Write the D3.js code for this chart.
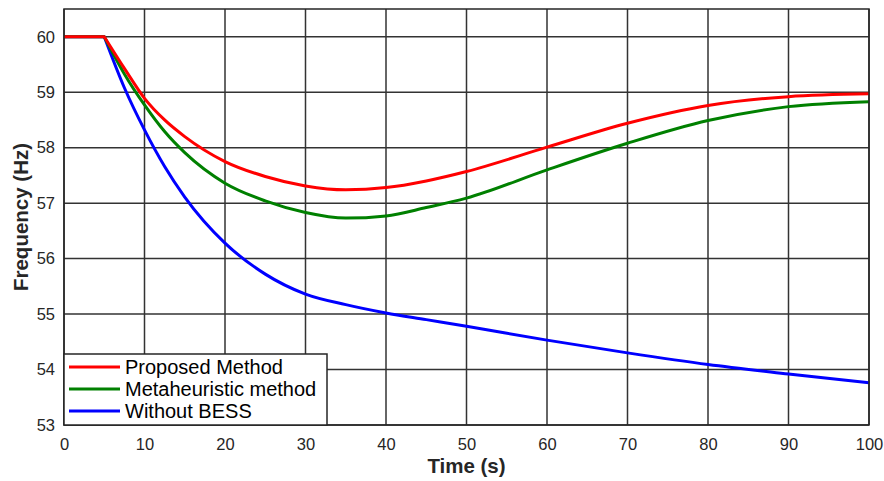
<!DOCTYPE html>
<html>
<head>
<meta charset="utf-8">
<script src="https://cdn.jsdelivr.net/npm/d3@7"></script>
<style>
  body { margin: 0; background: #fff; }
  svg { display: block; font-family: Arial, "Liberation Sans", Helvetica, sans-serif; }
</style>
</head>
<body>
<div id="chart"></div>
<script>
var timeS = [0, 5, 7.5, 10, 12.5, 15, 20, 25, 30, 35, 40, 45, 50, 60, 70, 80, 90, 100];
var proposed = [60, 60, 59.43, 58.89, 58.50, 58.20, 57.75, 57.48, 57.31, 57.24, 57.28, 57.4, 57.57, 58.01, 58.44, 58.76, 58.92, 58.97];
var metaheuristic = [60, 60, 59.33, 58.77, 58.29, 57.91, 57.36, 57.04, 56.83, 56.73, 56.77, 56.92, 57.09, 57.6, 58.08, 58.49, 58.74, 58.83];
var withoutBess = [60, 60, 59.08, 58.32, 57.66, 57.11, 56.28, 55.72, 55.36, 55.17, 55.02, 54.9, 54.78, 54.53, 54.3, 54.09, 53.92, 53.76];
var xTicks = [0, 10, 20, 30, 40, 50, 60, 70, 80, 90, 100];
var yTicks = [53, 54, 55, 56, 57, 58, 59, 60];
var seriesNames = ['Proposed Method', 'Metaheuristic method', 'Without BESS'];
var seriesColors = ['#ff0000', '#008000', '#0000ff'];

var W = 884, H = 481;
var margin = {top: 9, right: 15, bottom: 56, left: 64},
    width = W - margin.left - margin.right,
    height = H - margin.top - margin.bottom;

var x = d3.scaleLinear().domain([0, 100]).range([0, width]);
var y = d3.scaleLinear().domain([53, 60.5]).range([height, 0]);

var svg = d3.select('#chart').append('svg')
    .attr('width', W).attr('height', H);
var g = svg.append('g')
    .attr('transform', 'translate(' + margin.left + ',' + margin.top + ')');

// grid
g.append('g').selectAll('line').data(xTicks).enter().append('line')
    .attr('x1', d => x(d)).attr('x2', d => x(d))
    .attr('y1', 0).attr('y2', height)
    .attr('stroke', '#333').attr('stroke-width', 1.5);
g.append('g').selectAll('line').data(yTicks).enter().append('line')
    .attr('x1', 0).attr('x2', width)
    .attr('y1', d => y(d)).attr('y2', d => y(d))
    .attr('stroke', '#333').attr('stroke-width', 1.5);

// lines: flat part straight, the response smooth
var flatLine = d3.line().x(d => x(d[0])).y(d => y(d[1]));
var smoothLine = d3.line().x(d => x(d[0])).y(d => y(d[1])).curve(d3.curveMonotoneX);
var series = [proposed, metaheuristic, withoutBess];
for (var k = series.length - 1; k >= 0; k--) {
    var pts = timeS.map((t, i) => [t, series[k][i]]);
    var d = flatLine(pts.slice(0, 2)) + smoothLine(pts.slice(1)).replace(/^M/, 'L');
    g.append('path')
        .attr('fill', 'none')
        .attr('stroke', seriesColors[k])
        .attr('stroke-width', 3)
        .attr('stroke-linejoin', 'round')
        .attr('d', d);
}

// axes
var xAxis = d3.axisBottom(x).tickValues(xTicks).tickSize(0).tickPadding(13);
var yAxis = d3.axisLeft(y).tickValues(yTicks).tickSize(0).tickPadding(9);
var gx = g.append('g').attr('transform', 'translate(0,' + height + ')').call(xAxis);
var gy = g.append('g').call(yAxis);
[gx, gy].forEach(function(a) {
    a.select('.domain').remove();
    a.selectAll('text').attr('font-size', 16.5).attr('fill', '#262626')
        .attr('font-family', 'Arial, "Liberation Sans", sans-serif');
});

// box
g.append('rect').attr('x', 0).attr('y', 0).attr('width', width).attr('height', height)
    .attr('fill', 'none').attr('stroke', '#262626').attr('stroke-width', 1.5);

// axis titles
svg.append('text')
    .attr('x', margin.left + width / 2).attr('y', 473)
    .attr('text-anchor', 'middle')
    .attr('font-size', 20.5).attr('font-weight', 'bold').attr('fill', '#262626')
    .text('Time (s)');
svg.append('text')
    .attr('transform', 'translate(28,' + (margin.top + height / 2) + ') rotate(-90)')
    .attr('text-anchor', 'middle')
    .attr('font-size', 20.5).attr('font-weight', 'bold').attr('fill', '#262626')
    .text('Frequency (Hz)');

// legend
var legend = g.append('g').attr('transform', 'translate(0,' + (height - 71) + ')');
legend.append('rect').attr('x', 0).attr('y', 0).attr('width', 263).attr('height', 71)
    .attr('fill', '#fff').attr('stroke', '#262626').attr('stroke-width', 1.5);
seriesNames.forEach(function(name, i) {
    var ly = 13 + i * 22;
    legend.append('line')
        .attr('x1', 5).attr('x2', 56).attr('y1', ly).attr('y2', ly)
        .attr('stroke', seriesColors[i]).attr('stroke-width', 3);
    legend.append('text')
        .attr('x', 61).attr('y', ly).attr('dy', '0.35em')
        .attr('font-size', 20).attr('fill', '#000')
        .text(name);
});
</script>
</body>
</html>
